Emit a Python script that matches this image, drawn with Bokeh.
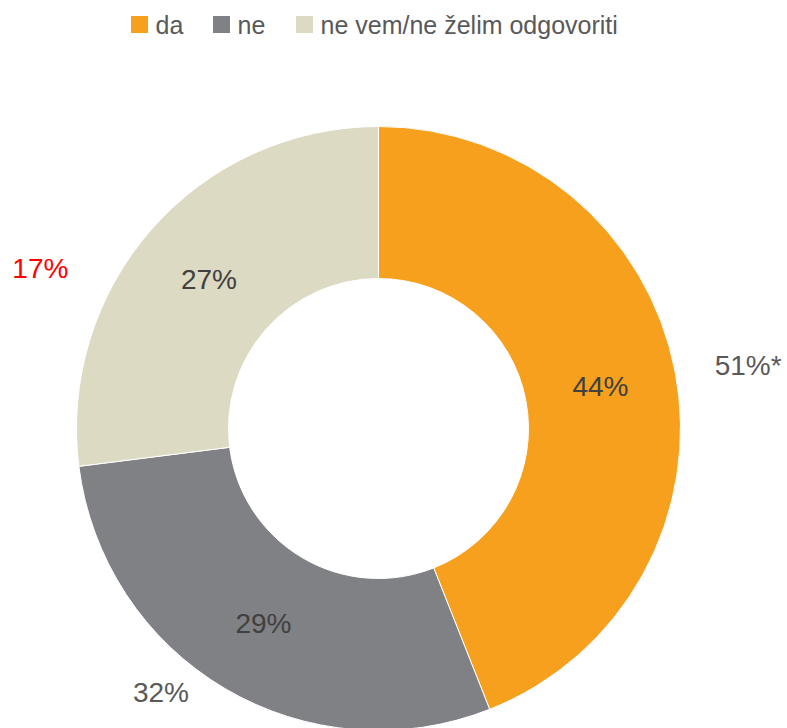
import math
from bokeh.plotting import figure
from bokeh.models import ColumnDataSource, Range1d
from bokeh.core.properties import value
from bokeh.embed import file_html
from bokeh.resources import INLINE

# ---- data ----
categories = ["da", "ne", "ne vem/ne želim odgovoriti"]
values = [44, 29, 27]
colors = ["#F7A01D", "#808184", "#DCDAC3"]
outer_labels = ["51%*", "32%", "17%"]
outer_colors = ["#595959", "#595959", "#FF0000"]

# ---- layout ----
W, H = 787, 728
FONT = "Liberation Sans"
cx, cy = 378, H - 428
r_in, r_out = 150, 302
# outer label placement (angle in degrees, radius in px)
outer_pos = [(9.7, 375), (-129.5, 342), (154.7, 374)]
legend_x = [131, 213, 296]
legend_y = H - 24

total = float(sum(values))
starts, ends, mids = [], [], []
a = math.pi / 2
for v in values:
    span = 2 * math.pi * v / total
    starts.append(a)
    ends.append(a - span)
    mids.append(a - span / 2)
    a -= span

src = ColumnDataSource(dict(
    cat=categories, val=values, color=colors,
    start=starts, end=ends,
    lx=[cx + (r_in + r_out) / 2 * math.cos(m) for m in mids],
    ly=[cy + (r_in + r_out) / 2 * math.sin(m) for m in mids],
    ltxt=[f"{v}%" for v in values],
))

p = figure(width=W, height=H, x_range=Range1d(0, W), y_range=Range1d(0, H),
           output_backend="svg", toolbar_location=None, min_border=0)
p.axis.visible = False
p.grid.visible = False
p.outline_line_color = None
p.background_fill_color = "white"

p.annular_wedge(x=cx, y=cy, inner_radius=r_in, outer_radius=r_out,
                start_angle="start", end_angle="end", direction="clock",
                fill_color="color", line_color="white", line_width=1, source=src)

p.text(x="lx", y="ly", text="ltxt", source=src, text_align="center",
       text_baseline="middle", text_font=value(FONT), text_font_size="28px",
       text_color="#404040")

osrc = ColumnDataSource(dict(
    x=[cx + r * math.cos(math.radians(ang)) for ang, r in outer_pos],
    y=[cy + r * math.sin(math.radians(ang)) for ang, r in outer_pos],
    t=outer_labels, c=outer_colors,
))
p.text(x="x", y="y", text="t", text_color="c", source=osrc, text_align="center",
       text_baseline="middle", text_font=value(FONT), text_font_size="28px")

# legend
lsrc = ColumnDataSource(dict(
    x=[x + 8 for x in legend_x], y=[legend_y] * 3,
    tx=[x + 24 for x in legend_x], t=categories, color=colors,
))
p.rect(x="x", y="y", width=17, height=17, fill_color="color", line_color=None, source=lsrc)
p.text(x="tx", y="y", text="t", source=lsrc, text_baseline="middle",
       text_font=value(FONT), text_font_size="25px", text_color="#595959")

open("out.html", "w").write(file_html(p, INLINE))
